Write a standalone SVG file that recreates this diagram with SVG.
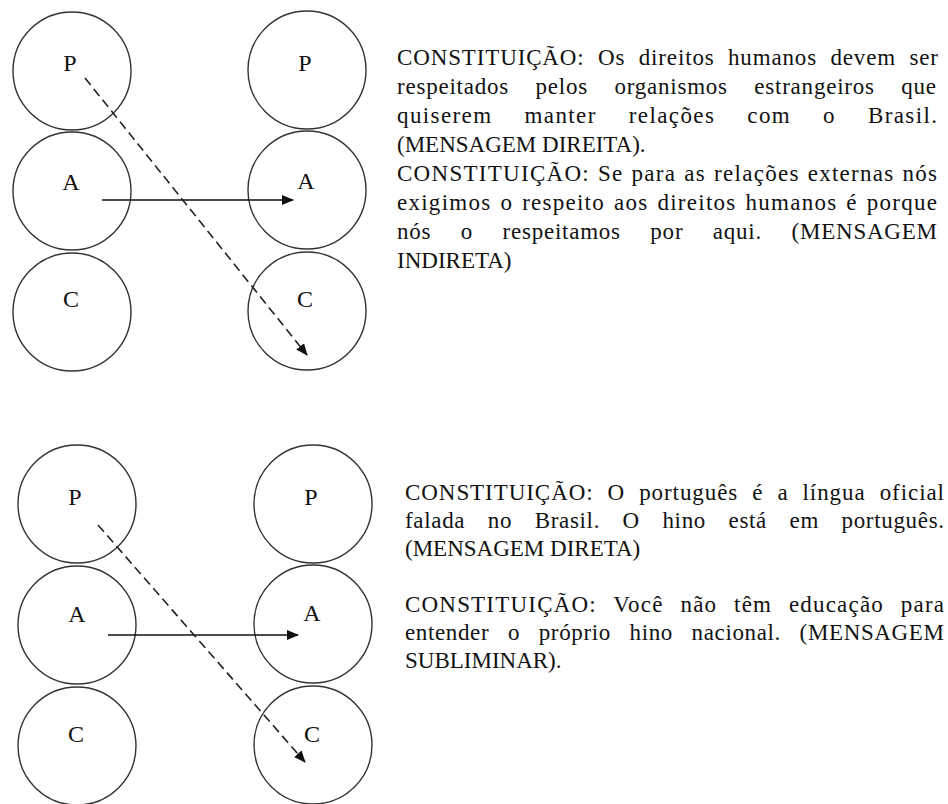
<svg xmlns="http://www.w3.org/2000/svg" width="948" height="804" viewBox="0 0 948 804">
<style>
.c{fill:none;stroke:#333;stroke-width:1.4}
.l{font-family:"Liberation Serif","Times New Roman",serif;font-size:24px;fill:#111;text-anchor:middle}
.t{font-family:"Liberation Serif","Times New Roman",serif;font-size:23px;fill:#111}
.s{stroke:#111;stroke-width:1.6;fill:none}
.d{stroke:#222;stroke-width:1.6;fill:none;stroke-dasharray:9 5}
</style>
<defs>
<marker id="ah" markerWidth="12" markerHeight="10" refX="11" refY="5" orient="auto" markerUnits="userSpaceOnUse">
<path d="M0,0 L12,5 L0,10 Z" fill="#111"/>
</marker>
</defs>
<rect width="948" height="804" fill="#fff"/>
<g id="top-P1"><circle class="c" cx="72" cy="71" r="59"/><text class="l" x="70" y="71">P</text></g>
<g id="top-A1"><circle class="c" cx="72" cy="191" r="59"/><text class="l" x="71" y="190">A</text></g>
<g id="top-C1"><circle class="c" cx="72" cy="312" r="59"/><text class="l" x="71" y="307">C</text></g>
<g id="top-P2"><circle class="c" cx="307" cy="70" r="59"/><text class="l" x="305" y="71">P</text></g>
<g id="top-A2"><circle class="c" cx="307" cy="190" r="59"/><text class="l" x="306" y="189">A</text></g>
<g id="top-C2"><circle class="c" cx="307" cy="311" r="59"/><text class="l" x="305" y="307">C</text></g>
<g id="bot-P1"><circle class="c" cx="77" cy="504" r="59"/><text class="l" x="75" y="505">P</text></g>
<g id="bot-A1"><circle class="c" cx="77" cy="625" r="59"/><text class="l" x="77" y="622">A</text></g>
<g id="bot-C1"><circle class="c" cx="77" cy="746" r="59"/><text class="l" x="76" y="742">C</text></g>
<g id="bot-P2"><circle class="c" cx="313" cy="504" r="59"/><text class="l" x="311" y="505">P</text></g>
<g id="bot-A2"><circle class="c" cx="313" cy="624" r="59"/><text class="l" x="312" y="621">A</text></g>
<g id="bot-C2"><circle class="c" cx="313" cy="745" r="59"/><text class="l" x="312" y="742">C</text></g>
<g id="connectors">
<line class="s" x1="102" y1="200" x2="293" y2="200" marker-end="url(#ah)"/>
<line class="d" x1="85" y1="78" x2="307" y2="355" marker-end="url(#ah)"/>
<line class="s" x1="108" y1="635" x2="298" y2="635" marker-end="url(#ah)"/>
<line class="d" x1="98" y1="525" x2="305" y2="762" marker-end="url(#ah)"/>
</g>
<g id="text-top" class="t">
<text x="397" y="65" word-spacing="6.8" textLength="541" lengthAdjust="spacing">CONSTITUIÇÃO: Os direitos humanos devem ser</text>
<text x="397" y="94" word-spacing="19.9" textLength="539" lengthAdjust="spacing">respeitados pelos organismos estrangeiros que</text>
<text x="397" y="123" word-spacing="24.8" textLength="540" lengthAdjust="spacing">quiserem manter relações com o Brasil.</text>
<text x="397" y="152">(MENSAGEM DIREITA).</text>
<text x="397" y="181" word-spacing="1" textLength="540" lengthAdjust="spacing">CONSTITUIÇÃO: Se para as relações externas nós</text>
<text x="397" y="210" word-spacing="2" textLength="540" lengthAdjust="spacing">exigimos o respeito aos direitos humanos é porque</text>
<text x="397" y="239" word-spacing="23" textLength="540" lengthAdjust="spacing">nós o respeitamos por aqui. (MENSAGEM</text>
<text x="397" y="268">INDIRETA)</text>
</g>
<g id="text-bottom" class="t">
<text x="405" y="500" word-spacing="7.3" textLength="539" lengthAdjust="spacing">CONSTITUIÇÃO: O português é a língua oficial</text>
<text x="405" y="528" word-spacing="16.1" textLength="539" lengthAdjust="spacing">falada no Brasil. O hino está em português.</text>
<text x="405" y="556">(MENSAGEM DIRETA)</text>
<text x="405" y="612" word-spacing="9.9" textLength="539" lengthAdjust="spacing">CONSTITUIÇÃO: Você não têm educação para</text>
<text x="405" y="640" word-spacing="12.3" textLength="539" lengthAdjust="spacing">entender o próprio hino nacional. (MENSAGEM</text>
<text x="405" y="668">SUBLIMINAR).</text>
</g>
</svg>
